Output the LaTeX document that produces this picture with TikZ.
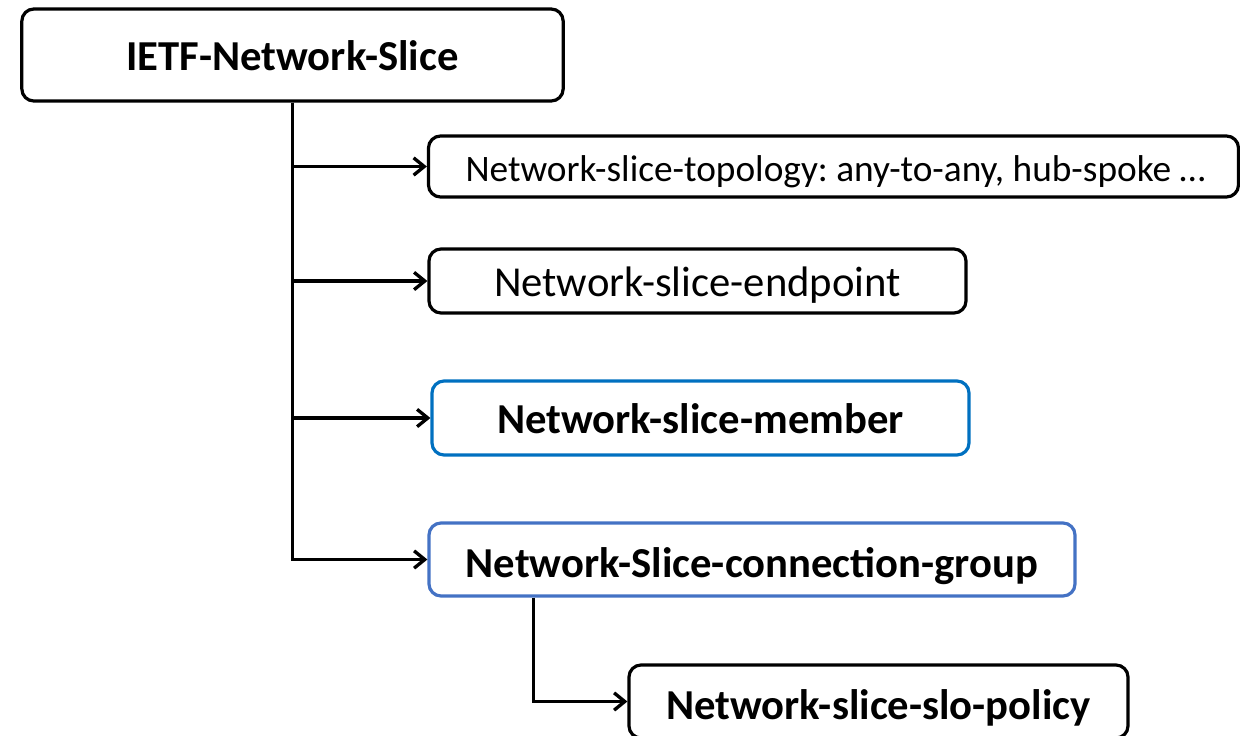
\documentclass[tikz,border=0pt]{standalone}
\usepackage{fontspec}
\setmainfont{Carlito}
\usetikzlibrary{arrows.meta}
\definecolor{memblue}{HTML}{0070C0}
\definecolor{conblue}{HTML}{4472C4}
\frenchspacing
\begin{document}
\begin{tikzpicture}[x=0.75pt,y=-0.75pt,
  box/.style={draw=black,line width=2.4pt,rounded corners=9pt,rectangle,inner sep=0pt,anchor=center,text depth=0pt},
  arr/.style={line width=2.8pt,-{Straight Barb[length=8pt,width=13pt,line width=2.5pt]}},
  bfont/.style={font=\fontsize{32}{38}\selectfont\bfseries},
]
\useasboundingbox (0,0) rectangle (1240,736);
\node[box,bfont,text height=23.6pt,minimum width=406pt,minimum height=69pt] (ietf) at (292.5,55) {IETF-Network-Slice};
\node[box,font=\fontsize{28}{32}\selectfont,text height=23.2pt,minimum width=607.5pt,minimum height=45.75pt] (topo) at (833.5,166.5) {\hspace*{3pt}Network-slice-topology: any-to-any, hub-spoke …};
\node[box,font=\fontsize{32}{38}\selectfont,text height=22.8pt,minimum width=402.75pt,minimum height=48pt] (endp) at (697.5,281) {Network-slice-endpoint};
\node[box,bfont,text height=23.6pt,draw=memblue,minimum width=402.75pt,minimum height=55.5pt] (memb) at (700.5,418) {Network-slice-member};
\node[box,bfont,text height=27.4pt,draw=conblue,minimum width=484.5pt,minimum height=54.75pt] (conn) at (752,559.5) {Network-Slice-connection-group};
\node[box,bfont,text height=27.4pt,minimum width=374.25pt,minimum height=54.75pt] (slo) at (878.5,701.5) {Network-slice-slo-policy};
\draw[arr] (ietf.south) |- (topo.west);
\draw[arr] (ietf.south) |- (endp.west);
\draw[arr] (ietf.south) |- (memb.west);
\draw[arr] (ietf.south) |- (conn.west);
\draw[arr] ([xshift=79.5pt]conn.south west) |- (slo.west);
\end{tikzpicture}
\end{document}
